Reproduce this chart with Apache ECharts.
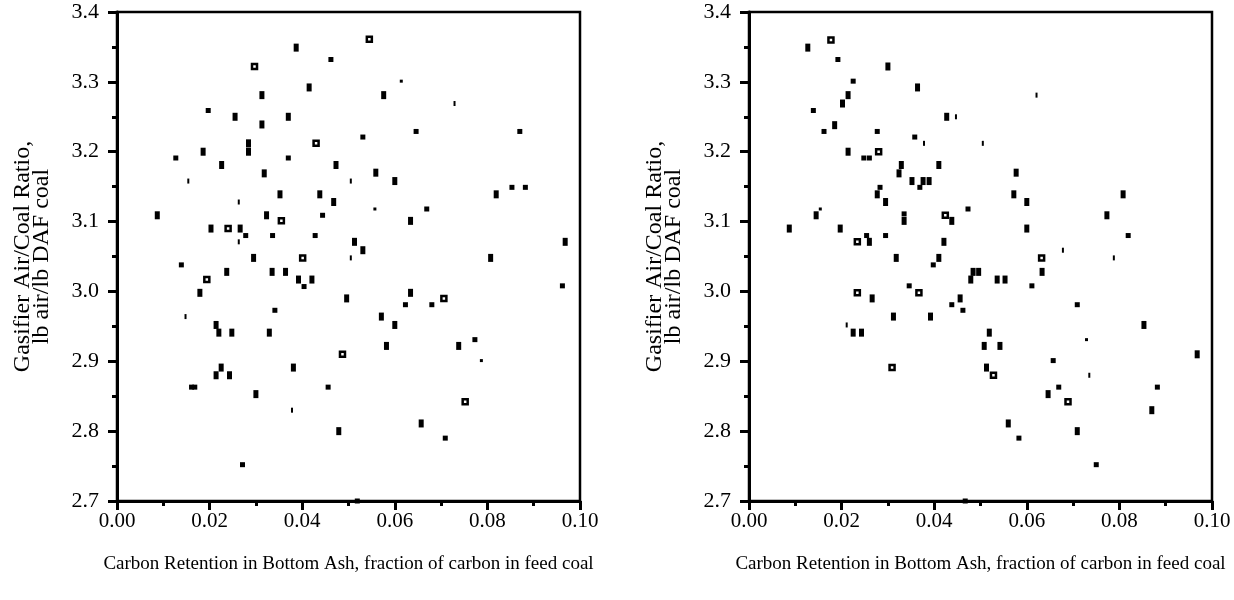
<!DOCTYPE html>
<html><head><meta charset="utf-8">
<script src="https://cdn.jsdelivr.net/npm/echarts@6/dist/echarts.min.js"></script>
<style>html,body{margin:0;padding:0;background:#fff}#c{width:1234px;height:600px}</style>
</head><body><div id="c"></div>
<script>
// Tick values
var xTicks = [0.00, 0.02, 0.04, 0.06, 0.08, 0.10];
var yTicks = [2.7, 2.8, 2.9, 3.0, 3.1, 3.2, 3.3, 3.4];
var xTitle = 'Carbon Retention in Bottom Ash, fraction of carbon in feed coal';
var yTitle = 'Gasifier Air/Coal Ratio,\nlb air/lb DAF coal';

// Left panel points, grouped by marker shape
var leftTall = [[0.0387,3.349],[0.0415,3.292],[0.0313,3.281],[0.0255,3.250],[0.0370,3.250],[0.0313,3.239],[0.0284,3.212],[0.0284,3.200],[0.0186,3.200],[0.0226,3.181],[0.0473,3.181],[0.0318,3.169],[0.0352,3.139],[0.0438,3.139],[0.0468,3.128],[0.0087,3.109],[0.0323,3.109],[0.0203,3.090],[0.0266,3.090],[0.0513,3.071],[0.0295,3.048],[0.0576,3.281],[0.0559,3.170],[0.0600,3.158],[0.0819,3.139],[0.0634,3.101],[0.0531,3.059],[0.0807,3.048],[0.0968,3.071],[0.0237,3.028],[0.0335,3.028],[0.0364,3.028],[0.0392,3.017],[0.0421,3.017],[0.0179,2.998],[0.0496,2.990],[0.0214,2.952],[0.0220,2.941],[0.0248,2.941],[0.0329,2.941],[0.0225,2.891],[0.0381,2.891],[0.0214,2.880],[0.0243,2.880],[0.0300,2.853],[0.0479,2.800],[0.0634,2.998],[0.0571,2.964],[0.0600,2.952],[0.0582,2.922],[0.0738,2.922],[0.0657,2.811]];
var leftSquare = [[0.0462,3.332],[0.0197,3.259],[0.0127,3.191],[0.0370,3.191],[0.0444,3.109],[0.0278,3.080],[0.0336,3.080],[0.0428,3.080],[0.0531,3.221],[0.0646,3.229],[0.0870,3.229],[0.0853,3.149],[0.0882,3.149],[0.0669,3.118],[0.0139,3.038],[0.0404,3.007],[0.0341,2.973],[0.0161,2.863],[0.0168,2.863],[0.0456,2.863],[0.0271,2.752],[0.0519,2.700],[0.0962,3.008],[0.0623,2.981],[0.0680,2.981],[0.0773,2.931],[0.0709,2.790]];
var leftThin = [[0.0154,3.158],[0.0505,3.158],[0.0263,3.128],[0.0263,3.071],[0.0505,3.048],[0.0729,3.269],[0.0148,2.964],[0.0378,2.830]];
var leftDot = [[0.0614,3.301],[0.0557,3.118],[0.0787,2.901]];
var leftHollow = [[0.0297,3.322],[0.0430,3.212],[0.0355,3.101],[0.0240,3.090],[0.0401,3.048],[0.0545,3.361],[0.0194,3.017],[0.0487,2.910],[0.0706,2.990],[0.0752,2.842]];

// Right panel points, grouped by marker shape
var rightTall = [[0.0127,3.349],[0.0300,3.322],[0.0364,3.292],[0.0214,3.281],[0.0202,3.269],[0.0427,3.250],[0.0185,3.238],[0.0214,3.200],[0.0329,3.181],[0.0410,3.181],[0.0324,3.169],[0.0352,3.158],[0.0376,3.158],[0.0389,3.158],[0.0277,3.139],[0.0295,3.128],[0.0145,3.109],[0.0335,3.101],[0.0438,3.101],[0.0087,3.090],[0.0197,3.090],[0.0260,3.071],[0.0421,3.071],[0.0318,3.048],[0.0410,3.048],[0.0577,3.170],[0.0572,3.139],[0.0600,3.128],[0.0808,3.139],[0.0773,3.109],[0.0600,3.090],[0.0484,3.028],[0.0496,3.028],[0.0479,3.017],[0.0266,2.990],[0.0456,2.990],[0.0312,2.964],[0.0392,2.964],[0.0225,2.941],[0.0243,2.941],[0.0633,3.028],[0.0536,3.017],[0.0553,3.017],[0.0853,2.952],[0.0519,2.941],[0.0508,2.922],[0.0542,2.922],[0.0968,2.910],[0.0513,2.891],[0.0646,2.853],[0.0870,2.830],[0.0560,2.811],[0.0709,2.800]];
var rightSquare = [[0.0192,3.332],[0.0225,3.301],[0.0139,3.259],[0.0162,3.229],[0.0277,3.229],[0.0358,3.221],[0.0248,3.191],[0.0260,3.191],[0.0369,3.149],[0.0283,3.149],[0.0473,3.118],[0.0335,3.111],[0.0254,3.080],[0.0295,3.080],[0.0819,3.080],[0.0398,3.038],[0.0346,3.008],[0.0438,2.981],[0.0462,2.973],[0.0467,2.700],[0.0611,3.008],[0.0709,2.981],[0.0657,2.901],[0.0669,2.863],[0.0882,2.863],[0.0583,2.790],[0.0750,2.752]];
var rightThin = [[0.0447,3.250],[0.0378,3.212],[0.0505,3.212],[0.0621,3.281],[0.0678,3.059],[0.0788,3.048],[0.0211,2.952],[0.0735,2.880]];
var rightDot = [[0.0154,3.118],[0.0729,2.931]];
var rightHollow = [[0.0177,3.360],[0.0280,3.200],[0.0424,3.109],[0.0234,3.071],[0.0632,3.048],[0.0234,2.998],[0.0367,2.998],[0.0309,2.891],[0.0528,2.880],[0.0689,2.842]];

var FONT = '"Liberation Serif", "Times New Roman", serif';
var chart = echarts.init(document.getElementById('c'), null, {renderer: 'canvas'});

function xAxisDef(idx) {
  return {
    gridIndex: idx, type: 'value', min: xTicks[0], max: xTicks[xTicks.length - 1], interval: 0.02,
    name: xTitle, nameLocation: 'middle', nameGap: 54,
    nameTextStyle: {fontFamily: FONT, fontSize: 19, color: '#000'},
    axisLine: {show: true, onZero: false, lineStyle: {color: '#000', width: 3}},
    axisTick: {show: true, inside: false, length: 9, lineStyle: {color: '#000', width: 3}},
    minorTick: {show: true, splitNumber: 2, length: 5, lineStyle: {color: '#000', width: 3}},
    splitLine: {show: false},
    axisLabel: {fontFamily: FONT, fontSize: 21, color: '#000', margin: 10,
      formatter: function (v) { return v.toFixed(2); }}
  };
}
function yAxisDef(idx) {
  return {
    gridIndex: idx, type: 'value', min: yTicks[0], max: yTicks[yTicks.length - 1], interval: 0.1,
    name: yTitle, nameLocation: 'middle', nameGap: 66, nameRotate: 90,
    nameTextStyle: {fontFamily: FONT, fontSize: 24, color: '#000', lineHeight: 19, align: 'center'},
    axisLine: {show: true, onZero: false, lineStyle: {color: '#000', width: 3}},
    axisTick: {show: true, inside: false, length: 9, lineStyle: {color: '#000', width: 3}},
    minorTick: {show: true, splitNumber: 2, length: 5, lineStyle: {color: '#000', width: 3}},
    splitLine: {show: false},
    axisLabel: {fontFamily: FONT, fontSize: 22, color: '#000', margin: 18,
      formatter: function (v) { return v.toFixed(1); }}
  };
}
function pts(idx, data, size, hollow) {
  return {
    type: 'scatter', xAxisIndex: idx, yAxisIndex: idx, data: data,
    symbol: 'rect', symbolSize: size, silent: true, animation: false,
    itemStyle: hollow ? {color: '#fff', borderColor: '#000', borderWidth: 2.5, opacity: 1}
                      : {color: '#000', opacity: 1}
  };
}

chart.setOption({
  backgroundColor: '#fff',
  animation: false,
  grid: [
    {left: 117, top: 12, width: 463, height: 489, show: true, borderColor: '#000', borderWidth: 2.5, backgroundColor: 'transparent'},
    {left: 749, top: 12, width: 463, height: 489, show: true, borderColor: '#000', borderWidth: 2.5, backgroundColor: 'transparent'}
  ],
  xAxis: [xAxisDef(0), xAxisDef(1)],
  yAxis: [yAxisDef(0), yAxisDef(1)],
  series: [
    pts(0, leftTall, [5, 8], false),
    pts(0, leftSquare, [5, 5], false),
    pts(0, leftThin, [2, 5], false),
    pts(0, leftDot, [3, 3], false),
    pts(0, leftHollow, [5, 5], true),
    pts(1, rightTall, [5, 8], false),
    pts(1, rightSquare, [5, 5], false),
    pts(1, rightThin, [2, 5], false),
    pts(1, rightDot, [3, 3], false),
    pts(1, rightHollow, [5, 5], true)
  ]
});
</script>
</body></html>
